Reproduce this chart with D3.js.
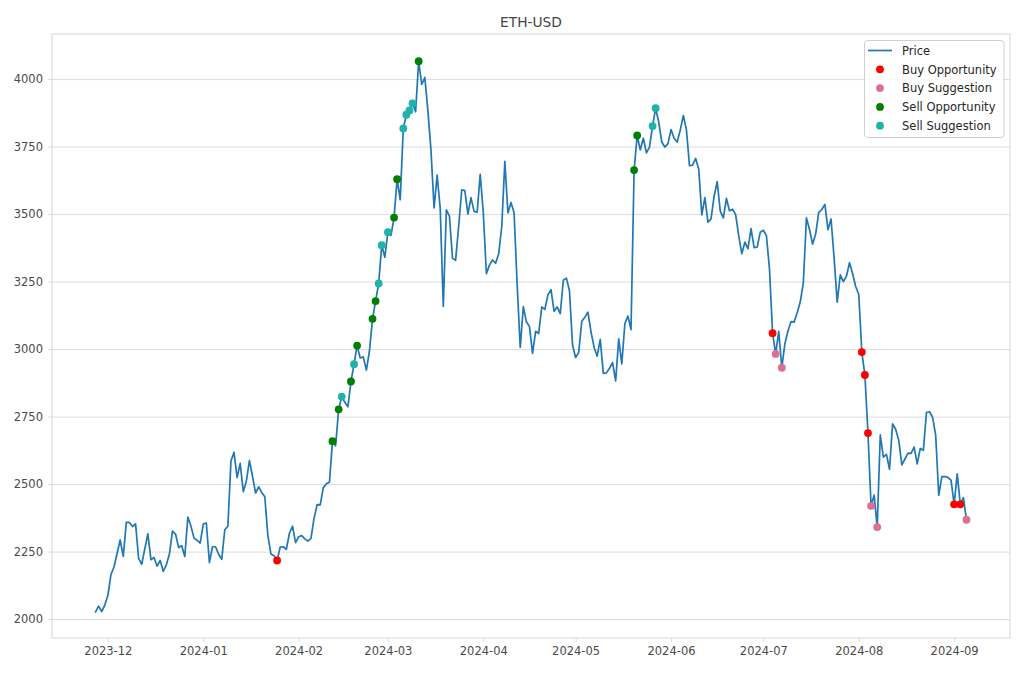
<!DOCTYPE html>
<html><head><meta charset="utf-8">
<script src="https://cdn.jsdelivr.net/npm/d3@7"></script>
<style>body{margin:0;background:#fff} svg{display:block} text{font-family:"DejaVu Sans",sans-serif}</style>
</head><body><svg id="c" width="1020" height="680"></svg>
<script>
const chartTitle = "ETH-USD";
const startDate = "2023-11-27";
const priceNov = [2027, 2048, 2028, 2052];
const priceDec = [2087, 2165, 2193, 2243, 2293, 2232, 2358, 2358, 2343, 2353, 2225, 2203, 2260, 2316, 2220, 2228, 2196, 2217, 2177, 2201, 2240, 2326, 2315, 2265, 2272, 2232, 2378, 2344, 2300, 2292, 2281];
const priceJan = [2352, 2356, 2209, 2268, 2268, 2240, 2221, 2331, 2344, 2585, 2618, 2524, 2577, 2472, 2511, 2587, 2529, 2467, 2490, 2469, 2453, 2309, 2241, 2235, 2217, 2267, 2268, 2258, 2318, 2344, 2283];
const priceFeb = [2305, 2309, 2297, 2289, 2299, 2373, 2424, 2423, 2486, 2501, 2507, 2659, 2642, 2777, 2824, 2803, 2786, 2880, 2944, 3013, 2967, 2971, 2922, 2992, 3112, 3178, 3243, 3385, 3340];
const priceMar = [3433, 3421, 3487, 3629, 3553, 3817, 3868, 3884, 3910, 3879, 4066, 3980, 4006, 3882, 3736, 3523, 3644, 3521, 3158, 3516, 3492, 3336, 3329, 3455, 3590, 3587, 3500, 3561, 3510, 3507, 3647];
const priceApr = [3505, 3279, 3311, 3330, 3318, 3353, 3454, 3695, 3504, 3543, 3505, 3240, 3006, 3157, 3101, 3084, 2984, 3066, 3058, 3156, 3147, 3201, 3220, 3140, 3156, 3131, 3255, 3263, 3216, 3014];
const priceMay = [2969, 2988, 3103, 3118, 3137, 3064, 3007, 2974, 3036, 2910, 2912, 2929, 2950, 2882, 3038, 2945, 3094, 3122, 3072, 3663, 3791, 3738, 3781, 3727, 3748, 3826, 3892, 3841, 3767, 3748, 3761];
const priceJun = [3813, 3781, 3767, 3811, 3865, 3813, 3679, 3681, 3706, 3667, 3497, 3561, 3470, 3482, 3566, 3620, 3511, 3486, 3558, 3512, 3518, 3498, 3420, 3353, 3396, 3372, 3446, 3376, 3378, 3433];
const priceJul = [3440, 3420, 3296, 3059, 2982, 3066, 2931, 3020, 3067, 3102, 3100, 3135, 3175, 3246, 3486, 3443, 3389, 3426, 3506, 3517, 3536, 3442, 3482, 3336, 3174, 3275, 3250, 3270, 3320, 3280, 3232];
const priceAug = [3203, 2989, 2904, 2689, 2419, 2459, 2341, 2682, 2600, 2610, 2555, 2723, 2703, 2662, 2571, 2593, 2615, 2614, 2637, 2575, 2632, 2625, 2765, 2768, 2747, 2681, 2458, 2528, 2528, 2525, 2514];
const priceSep = [2425, 2538, 2425, 2450, 2368];

const buyOpportunity = ["2024-01-25","2024-07-04","2024-08-02","2024-08-03","2024-08-04","2024-09-01","2024-09-03"];
const buySuggestion = ["2024-07-05","2024-07-07","2024-08-05","2024-08-07","2024-09-05"];
const sellOpportunity = ["2024-02-12","2024-02-14","2024-02-18","2024-02-20","2024-02-25","2024-02-26","2024-03-03","2024-03-04","2024-03-11","2024-05-20","2024-05-21"];
const sellSuggestion = ["2024-02-15","2024-02-19","2024-02-27","2024-02-28","2024-03-01","2024-03-06","2024-03-07","2024-03-08","2024-03-09","2024-05-26","2024-05-27"];

const yTicks = [2000, 2250, 2500, 2750, 3000, 3250, 3500, 3750, 4000];
const yDomain = [1930, 4167];
const xTickLabels = ["2023-12","2024-01","2024-02","2024-03","2024-04","2024-05","2024-06","2024-07","2024-08","2024-09"];

const parse = d3.utcParse("%Y-%m-%d");
const parseM = d3.utcParse("%Y-%m");
const prices = [].concat(priceNov, priceDec, priceJan, priceFeb, priceMar, priceApr, priceMay, priceJun, priceJul, priceAug, priceSep);
const t0 = parse(startDate);
const data = prices.map((v, i) => ({date: d3.utcDay.offset(t0, i), value: v}));
const byDate = new Map(data.map(d => [+d.date, d.value]));

const L = 52, R = 1010, T = 34, B = 638;
const svg = d3.select("#c");
const x0 = +data[0].date, x1 = +data[data.length - 1].date, span = x1 - x0;
const x = d3.scaleUtc().domain([new Date(x0 - span * 0.05), new Date(x1 + span * 0.05)]).range([L, R]);
const y = d3.scaleLinear().domain(yDomain).range([B, T]);

svg.append("rect").attr("x", 0).attr("y", 0).attr("width", 1020).attr("height", 680).attr("fill", "#fff");

// grid
const gy = svg.append("g").attr("transform", `translate(${L},0)`)
  .call(d3.axisLeft(y).tickValues(yTicks).tickSize(-(R - L)).tickFormat(""));
gy.select(".domain").remove();
gy.selectAll("line").attr("stroke", "#dcdcdc").attr("stroke-width", 1);

// line
svg.append("path").datum(data)
  .attr("fill", "none").attr("stroke", "#1f77b4").attr("stroke-width", 1.7)
  .attr("stroke-linejoin", "round").attr("stroke-linecap", "square")
  .attr("d", d3.line().x(d => x(d.date)).y(d => y(d.value)));

const series = [
  {name: "Buy Opportunity", dates: buyOpportunity, color: "#ff0000"},
  {name: "Buy Suggestion", dates: buySuggestion, color: "#db7093"},
  {name: "Sell Opportunity", dates: sellOpportunity, color: "#008000"},
  {name: "Sell Suggestion", dates: sellSuggestion, color: "#20b2aa"}
];
series.forEach(s => {
  svg.append("g").selectAll("circle").data(s.dates.map(parse)).join("circle")
    .attr("cx", d => x(d)).attr("cy", d => y(byDate.get(+d)))
    .attr("r", 3.9).attr("fill", s.color);
});

// frame
svg.append("rect").attr("x", L).attr("y", T).attr("width", R - L).attr("height", B - T)
  .attr("fill", "none").attr("stroke", "#d6d6d6").attr("stroke-width", 1);

// axes
const ax = svg.append("g").attr("transform", `translate(0,${B})`)
  .call(d3.axisBottom(x).tickValues(xTickLabels.map(parseM)).tickSize(4).tickPadding(5).tickFormat(d3.utcFormat("%Y-%m")));
ax.select(".domain").remove();
ax.selectAll("line").attr("stroke", "#dadada");
ax.selectAll("text").attr("fill", "#4a4a4a").style("font-size", "11.5px").style("font-family", "DejaVu Sans");

const ay = svg.append("g").attr("transform", `translate(${L},0)`)
  .call(d3.axisLeft(y).tickValues(yTicks).tickSize(4).tickPadding(5).tickFormat(d3.format("d")));
ay.select(".domain").remove();
ay.selectAll("line").attr("stroke", "#dadada");
ay.selectAll("text").attr("fill", "#4a4a4a").style("font-size", "11.5px").style("font-family", "DejaVu Sans");

// title
svg.append("text").attr("x", (L + R) / 2).attr("y", 27).attr("text-anchor", "middle")
  .attr("fill", "#444").style("font-size", "13.8px").text(chartTitle);

// legend
const lg = svg.append("g");
lg.append("rect").attr("x", 864.5).attr("y", 40.5).attr("width", 139.5).attr("height", 97)
  .attr("rx", 3).attr("fill", "#fff").attr("fill-opacity", 0.85).attr("stroke", "#d0d0d0");
const rows = [{name: "Price", line: true}].concat(series);
rows.forEach((r, i) => {
  const cy = 50.5 + i * 18.8;
  if (r.line) {
    lg.append("line").attr("x1", 868).attr("x2", 892).attr("y1", cy).attr("y2", cy)
      .attr("stroke", "#1f77b4").attr("stroke-width", 1.7);
  } else {
    lg.append("circle").attr("cx", 880).attr("cy", cy).attr("r", 3.9).attr("fill", r.color);
  }
  lg.append("text").attr("x", 902).attr("y", cy + 4.2).attr("fill", "#262626")
    .style("font-size", "11.5px").text(r.name);
});
</script></body></html>
